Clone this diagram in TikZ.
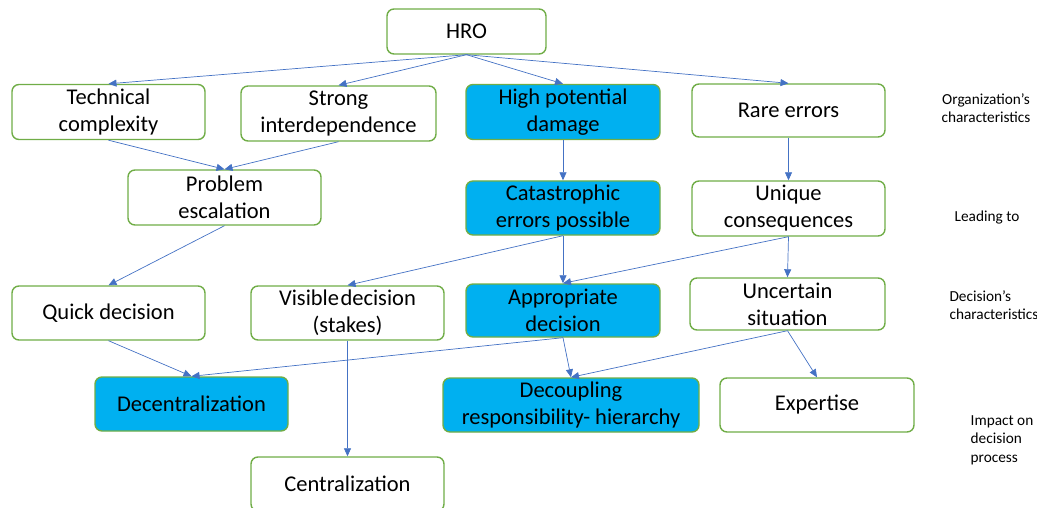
\documentclass[tikz,border=0pt]{standalone}
\usepackage{fontspec}
\setmainfont{Carlito}
\usetikzlibrary{arrows.meta}
\definecolor{bgreen}{HTML}{70AD47}
\definecolor{bblue}{HTML}{00B0F0}
\definecolor{aline}{HTML}{4472C4}
\tikzset{
  box/.style={draw=bgreen, line width=1.4pt, rounded corners=7pt, fill=white, align=center,
    minimum width=193pt, minimum height=55pt, inner sep=1pt,
    font=\fontsize{22.5}{27}\selectfont},
  hot/.style={box, fill=bblue},
  conn/.style={draw=aline, line width=0.7pt, -{Triangle[length=8pt,width=7pt]}},
  side/.style={font=\fontsize{15.3}{18.5}\selectfont, align=left}
}
\begin{document}
\begin{tikzpicture}[x=1pt,y=-1pt]
\useasboundingbox (0,0) rectangle (1037,508);
% nodes
\node[box, minimum width=159pt, minimum height=45pt] (hro) at (466.5,31.5) {HRO};
\node[box] (tech) at (108.5,112) {Technical\\complexity};
\node[box, minimum width=195pt] (strong) at (338.5,113.5) {Strong\\interdependence};
\node[hot, minimum width=194pt] (high) at (563,112) {High potential\\damage};
\node[box, minimum height=53pt] (rare) at (788.5,110.5) {Rare errors};
\node[box] (prob) at (224.5,197.5) {Problem\\escalation};
\node[hot, minimum width=194pt, minimum height=54pt] (cat) at (563,208) {Catastrophic\\errors possible};
\node[box] (uniq) at (788.5,208.5) {Unique\\consequences};
\node[box, minimum height=54pt] (quick) at (108.5,313) {Quick decision};
\node[box, minimum height=54pt] (vis) at (347.5,313) {Visible\hspace{1.5pt}decision\\(stakes)};
\node[hot, minimum width=194pt, minimum height=53pt] (appr) at (563,310.5) {Appropriate\\decision};
\node[box, minimum width=195pt, minimum height=52pt] (unc) at (787.5,304) {Uncertain\\situation};
\node[hot, minimum height=54pt] (dec) at (191.5,404) {Decentralization};
\node[hot, minimum width=256pt, minimum height=54pt] (decoup) at (571,405) {Decoupling\\responsibility- hierarchy};
\node[box, minimum width=194pt, minimum height=54pt] (exp) at (817,405) {Expertise};
\node[box, minimum height=54pt] (cent) at (347.5,484) {Centralization};
% side labels
\node[side, align=center] (l1) at (986,108) {Organization’s\\characteristics};
\node[side] (l2) at (987,218) {Leading to};
\node[side] (l3) at (994,305) {Decision’s\\characteristics};
\node[side] (l4) at (1002,440) {Impact on\\decision\\process};
% connectors
\draw[conn] (hro.south) -- (tech.north);
\draw[conn] (hro.south) -- (strong.north);
\draw[conn] (hro.south) -- (high.north);
\draw[conn] (hro.south) -- (rare.north);
\draw[conn] (tech.south) -- (prob.north);
\draw[conn] (strong.south) -- (prob.north);
\draw[conn] (high.south) -- (cat.north);
\draw[conn] (rare.south) -- (uniq.north);
\draw[conn] (prob.south) -- (quick.north);
\draw[conn] (cat.south) -- (vis.north);
\draw[conn] (cat.south) -- (appr.north);
\draw[conn] (uniq.south) -- (appr.north);
\draw[conn] (uniq.south) -- (unc.north);
\draw[conn] (quick.south) -- (dec.north);
\draw[conn] (appr.south) -- (dec.north);
\draw[conn] (appr.south) -- (decoup.north);
\draw[conn] (unc.south) -- (decoup.north);
\draw[conn] (unc.south) -- (exp.north);
\draw[conn] (vis.south) -- (cent.north);
\end{tikzpicture}
\end{document}
